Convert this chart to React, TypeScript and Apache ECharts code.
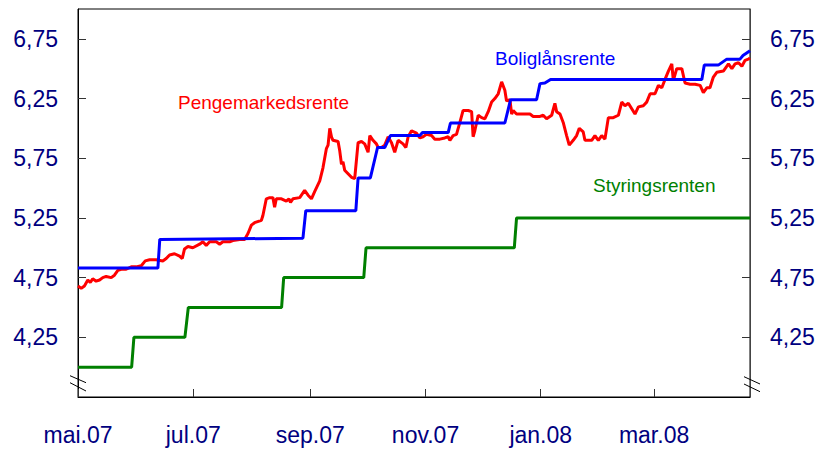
import React, { useEffect, useRef } from "react";
import * as echarts from "echarts";

// X-axis tick dates and their labels
const tickDates = ["2007-05-01", "2007-07-01", "2007-09-01", "2007-11-01", "2008-01-01", "2008-03-01"];
const tickLabels = ["mai.07", "jul.07", "sep.07", "nov.07", "jan.08", "mar.08"];
// Y-axis tick values
const yTicks = [4.25, 4.75, 5.25, 5.75, 6.25, 6.75];

// All x positions are days after this date
const START_DATE = "2007-05-01";
const END_DAY = 355.8;

// Pengemarkedsrente (money market rate)
const redDays = [
  0.0, 1.7, 3.4, 5.2, 6.5, 7.8, 9.6, 11.4, 13.1, 14.9,
  17.6, 19.3, 21.1, 22.9, 25.5, 28.2, 30.8, 33.5, 35.6, 37.9,
  41.4, 44.9, 46.7, 48.5, 51.1, 53.8, 55.2, 56.4, 58.2, 60.8,
  64.4, 66.1, 67.9, 69.7, 73.2, 75.0, 76.7, 80.3, 82.0, 85.6,
  88.2, 90.0, 91.8, 93.5, 97.1, 97.9, 99.7, 101.5, 103.2, 104.1,
  105.0, 107.7, 110.3, 111.7, 112.5, 113.8, 117.4, 120.0, 121.8, 123.6,
  125.3, 128.0, 129.7, 131.5, 132.4, 133.3, 134.2, 135.0, 137.7, 138.6,
  139.5, 140.3, 141.2, 143.0, 144.8, 146.5, 147.4, 148.3, 150.1, 151.8,
  153.6, 154.5, 156.2, 158.0, 158.9, 160.7, 162.4, 164.2, 166.0, 167.7,
  169.5, 172.1, 173.6, 174.8, 176.6, 179.2, 181.0, 182.7, 184.5, 187.2,
  188.9, 191.6, 194.2, 196.0, 196.9, 198.6, 200.4, 202.2, 203.9, 206.6,
  208.4, 209.2, 210.1, 211.9, 213.7, 215.4, 217.2, 219.0, 220.7, 222.5,
  224.3, 226.0, 226.9, 228.7, 229.6, 230.4, 232.2, 235.7, 239.3, 241.0,
  244.6, 246.3, 248.1, 250.8, 252.5, 253.4, 255.2, 256.9, 258.7, 260.1,
  262.2, 264.0, 265.4, 267.5, 268.4, 272.0, 273.7, 275.5, 277.3, 279.0,
  280.8, 283.4, 286.1, 287.9, 289.6, 291.4, 294.9, 296.7, 299.3, 301.1,
  302.9, 305.5, 307.3, 309.1, 310.8, 312.6, 314.4, 315.2, 317.0, 319.7,
  321.4, 324.1, 326.7, 329.4, 331.1, 332.9, 334.6, 336.4, 338.2, 341.7,
  344.4, 346.2, 347.9, 349.7, 351.5, 353.2, 354.9, 355.8,
];
const redRates = [
  4.68, 4.66, 4.68, 4.73, 4.71, 4.74, 4.72, 4.73, 4.75, 4.76,
  4.75, 4.77, 4.81, 4.82, 4.82, 4.84, 4.84, 4.85, 4.89, 4.9,
  4.9, 4.89, 4.91, 4.94, 4.95, 4.93, 4.91, 4.99, 5.01, 5.0,
  5.03, 5.05, 5.02, 5.05, 5.05, 5.03, 5.05, 5.05, 5.06, 5.07,
  5.07, 5.12, 5.19, 5.21, 5.23, 5.27, 5.41, 5.42, 5.42, 5.34,
  5.41, 5.41, 5.39, 5.41, 5.38, 5.41, 5.42, 5.48, 5.44, 5.41,
  5.47, 5.56, 5.67, 5.83, 5.86, 6.0, 5.93, 5.9, 5.89, 5.81,
  5.7, 5.72, 5.65, 5.62, 5.59, 5.58, 5.73, 5.88, 5.89, 5.87,
  5.8, 5.94, 5.9, 5.87, 5.84, 5.84, 5.86, 5.93, 5.88, 5.8,
  5.9, 5.87, 5.84, 5.93, 5.98, 5.96, 5.92, 5.93, 5.95, 5.94,
  5.91, 5.91, 5.92, 5.93, 5.9, 5.94, 5.95, 6.05, 6.15, 6.15,
  6.14, 5.93, 5.98, 6.11, 6.09, 6.08, 6.14, 6.22, 6.25, 6.29,
  6.39, 6.32, 6.23, 6.24, 6.12, 6.15, 6.12, 6.12, 6.12, 6.1,
  6.1, 6.11, 6.08, 6.11, 6.21, 6.14, 6.12, 6.05, 5.94, 5.86,
  5.9, 5.94, 6.0, 5.97, 5.9, 5.9, 5.94, 5.9, 5.94, 5.91,
  6.09, 6.09, 6.11, 6.22, 6.19, 6.21, 6.12, 6.18, 6.19, 6.22,
  6.29, 6.29, 6.36, 6.34, 6.41, 6.48, 6.54, 6.4, 6.5, 6.5,
  6.38, 6.37, 6.37, 6.36, 6.3, 6.34, 6.34, 6.43, 6.47, 6.48,
  6.54, 6.5, 6.54, 6.55, 6.52, 6.57, 6.58, 6.59,
];

// Boliglånsrente (mortgage rate)
const blueDays = [
  0, 42.3, 43.3, 119.1, 120.6, 147.1, 148.3, 154.8, 158.6, 162.4,
  165.4, 181.0, 182.4, 196.0, 197.2, 226.0, 229.0, 242.8, 244.6, 247.2,
  250.2, 330.3, 331.6, 339.0, 343.5, 350.5, 352.1, 355.8,
];
const blueRates = [
  4.83, 4.83, 5.07, 5.08, 5.31, 5.31, 5.585, 5.585, 5.84, 5.84,
  5.94, 5.94, 5.965, 5.965, 6.045, 6.045, 6.24, 6.24, 6.375, 6.38,
  6.41, 6.41, 6.53, 6.53, 6.58, 6.58, 6.61, 6.65,
];

// Styringsrenten (policy rate)
const greenDays = [0, 28.4, 29.6, 56.6, 58.4, 107.8, 108.9, 151.3, 152.5, 231.0, 232.2, 355.8];
const greenRates = [4.0, 4.0, 4.25, 4.25, 4.5, 4.5, 4.75, 4.75, 5.0, 5.0, 5.25, 5.25];

const DAY_MS = 86400000;
const baseTime = Date.parse(START_DATE + "T00:00:00Z");
const pairs = (days: number[], vals: number[]) => days.map((d, i) => [d, vals[i]]);
const tickDays = tickDates.map((s) => Math.round((Date.parse(s + "T00:00:00Z") - baseTime) / DAY_MS));

const FONT = "'Liberation Sans', Arial, sans-serif";
const AXIS_COLOR = "#000080";

export default function App() {
  const ref = useRef<HTMLDivElement>(null);
  useEffect(() => {
    if (!ref.current) return;
    const chart = echarts.init(ref.current, undefined, { renderer: "svg" });
    const xFmt = (v: number) => {
      const i = tickDays.findIndex((t) => Math.abs(t - v) < 0.5);
      return i >= 0 ? tickLabels[i] : "";
    };
    const yFmt = (v: number) => v.toFixed(2).replace(".", ",");
    const yAxisBase = {
      type: "value",
      min: 3.75,
      max: 7.0,
      splitLine: { show: false },
      axisLine: { show: true, lineStyle: { color: "#000", width: 1 } },
      axisTick: { show: true, inside: true, length: 8, lineStyle: { color: "#333" }, customValues: yTicks },
      axisLabel: {
        customValues: yTicks,
        formatter: yFmt,
        color: AXIS_COLOR,
        fontSize: 23,
        fontFamily: FONT,
        margin: 20,
      },
    };
    const lineSeries = (name: string, color: string, data: number[][], z: number) => ({
      name,
      type: "line",
      data,
      showSymbol: false,
      symbol: "none",
      z,
      lineStyle: { color, width: 3 },
    });
    chart.setOption({
      animation: false,
      textStyle: { fontFamily: FONT },
      grid: {
        left: 78,
        right: 70,
        top: 9,
        bottom: 53,
        show: true,
        borderColor: "#000",
        borderWidth: 1,
        outerBoundsMode: "none",
        containLabel: false,
      },
      xAxis: {
        type: "value",
        min: 0,
        max: END_DAY,
        splitLine: { show: false },
        axisLine: { show: true, lineStyle: { color: "#000", width: 1 } },
        axisTick: { show: true, inside: true, length: 8, lineStyle: { color: "#333" }, customValues: tickDays },
        axisLabel: {
          customValues: tickDays,
          formatter: xFmt,
          color: AXIS_COLOR,
          fontSize: 23,
          fontFamily: FONT,
          margin: 26,
        },
      },
      yAxis: [
        { ...yAxisBase, position: "left" },
        { ...yAxisBase, position: "right", axisLine: { show: true, lineStyle: { color: "#444", width: 1 } } },
      ],
      series: [
        lineSeries("Styringsrenten", "#008000", pairs(greenDays, greenRates), 2),
        lineSeries("Pengemarkedsrente", "#ff0000", pairs(redDays, redRates), 3),
        lineSeries("Boliglånsrente", "#0000ff", pairs(blueDays, blueRates), 4),
      ],
      graphic: [
        { type: "text", left: 178, top: 104 - 11, style: { text: "Pengemarkedsrente", fill: "#ff0000", font: `19px ${FONT}` } },
        { type: "text", left: 495, top: 60 - 11, style: { text: "Boliglånsrente", fill: "#0000ff", font: `19px ${FONT}` } },
        { type: "text", left: 593, top: 187 - 11, style: { text: "Styringsrenten", fill: "#008000", font: `19px ${FONT}` } },
        { type: "line", shape: { x1: 70, y1: 375.7, x2: 86, y2: 382.7 }, style: { stroke: "#000", lineWidth: 1 }, z: 10 },
        { type: "line", shape: { x1: 70, y1: 382.7, x2: 86, y2: 391 }, style: { stroke: "#000", lineWidth: 1 }, z: 10 },
        { type: "line", shape: { x1: 744, y1: 376.7, x2: 760, y2: 384 }, style: { stroke: "#000", lineWidth: 1 }, z: 10 },
        { type: "line", shape: { x1: 744, y1: 384, x2: 760, y2: 391.7 }, style: { stroke: "#000", lineWidth: 1 }, z: 10 },
      ],
    });
    return () => chart.dispose();
  }, []);
  return (
    <div
      ref={ref}
      style={{ position: "fixed", left: 0, top: 0, width: 820, height: 450, background: "#fff" }}
    />
  );
}
